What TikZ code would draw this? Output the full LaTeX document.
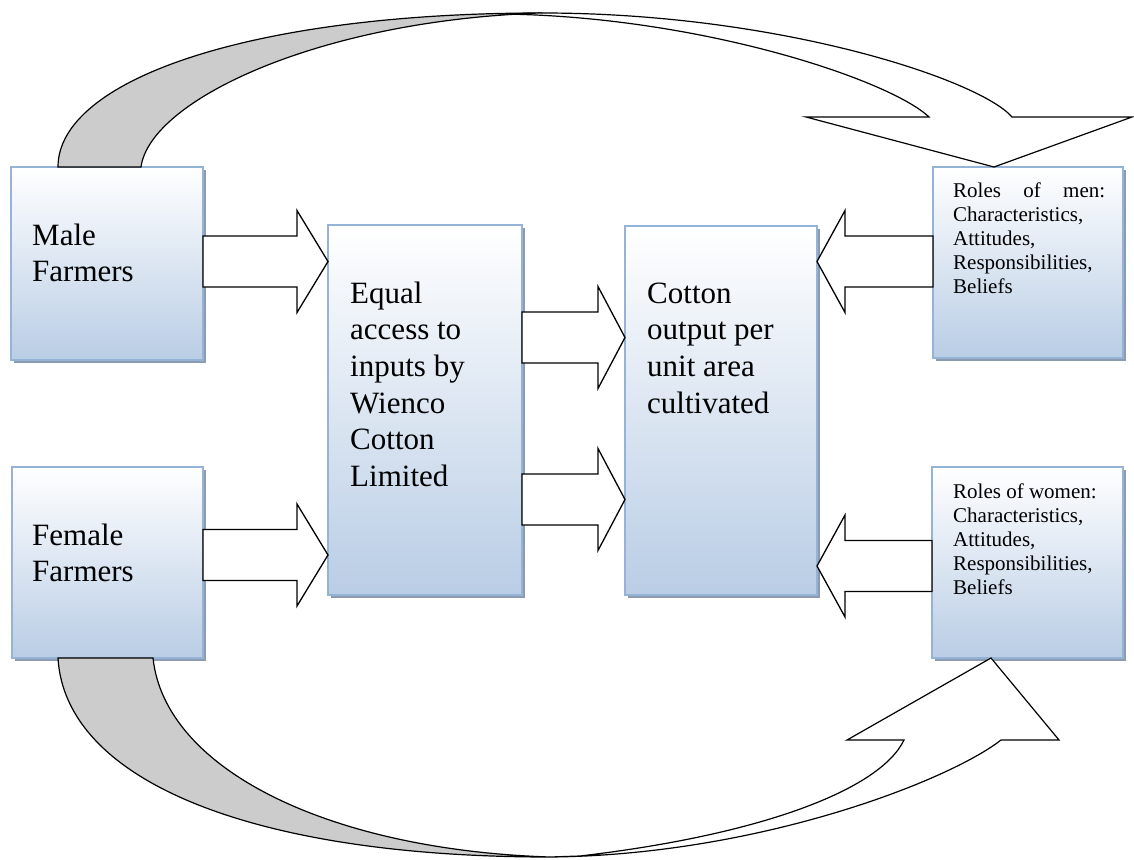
\documentclass[tikz,border=0pt]{standalone}
\usepackage{fontspec}
\setmainfont{Liberation Serif}
\usetikzlibrary{calc,shadows}
\definecolor{boxblue}{RGB}{185,205,229}
\definecolor{boxline}{RGB}{149,179,215}
\definecolor{shadowc}{RGB}{140,155,176}
\definecolor{bandgray}{RGB}{204,204,204}
\newcommand\rblock[4]{%
  \draw[barrow] let \p1=(#1.east), \p2=(#2.west) in
   ({\x1},{\y1+25.5pt-(#3)}) -- ({\x2-#4},{\y1+25.5pt-(#3)}) -- ({\x2-#4},{\y1+51pt-(#3)})
   -- ({\x2},{\y1-(#3)}) -- ({\x2-#4},{\y1-51pt-(#3)}) -- ({\x2-#4},{\y1-25.5pt-(#3)})
   -- ({\x1},{\y1-25.5pt-(#3)}) -- cycle;}
\newcommand\lblock[4]{%
  \draw[barrow] let \p1=(#1.west), \p2=(#2.east) in
   ({\x1},{\y1+25.5pt-(#3)}) -- ({\x2+#4},{\y1+25.5pt-(#3)}) -- ({\x2+#4},{\y1+51pt-(#3)})
   -- ({\x2},{\y1-(#3)}) -- ({\x2+#4},{\y1-51pt-(#3)}) -- ({\x2+#4},{\y1-25.5pt-(#3)})
   -- ({\x1},{\y1-25.5pt-(#3)}) -- cycle;}
\begin{document}
\begin{tikzpicture}[x=1pt,y=-1pt,
  box/.style={draw=boxline, line width=1.6pt, top color=white, bottom color=boxblue,
    anchor=north west, inner sep=0pt, outer sep=0pt,
    drop shadow={shadow xshift=3pt, shadow yshift=-3pt, fill=shadowc, opacity=1}},
  bigtext/.style={anchor=base west, inner sep=0pt, font=\fontsize{31}{36.7}\selectfont},
  smalltext/.style={anchor=base west, inner sep=0pt, font=\fontsize{21}{24}\selectfont},
  barrow/.style={draw=black, line width=1.3pt, fill=white, line join=miter},
  band/.style={draw=black, line width=1.2pt, fill=bandgray},
  ]
\useasboundingbox (0,0) rectangle (1134,859);

% boxes
\node[box, minimum width=192pt, minimum height=193pt] (male) at (11,167) {};
\node[box, minimum width=191pt, minimum height=191pt] (female) at (12,467) {};
\node[box, minimum width=194pt, minimum height=370pt] (equal) at (328,225) {};
\node[box, minimum width=192pt, minimum height=369pt] (cotton) at (625,226) {};
\node[box, minimum width=190pt, minimum height=191pt] (rolesm) at (933,167) {};
\node[box, minimum width=191pt, minimum height=191pt] (rolesw) at (932,467) {};

% texts
\node[bigtext] (maleT) at ($(male.north west)+(21,78)$)
  {\parbox[t]{170pt}{\raggedright Male\\Farmers}};
\node[bigtext] (femaleT) at ($(female.north west)+(20,78)$)
  {\parbox[t]{170pt}{\raggedright Female\\Farmers}};
\node[bigtext] (equalT) at ($(equal.north west)+(22,78)$)
  {\parbox[t]{170pt}{\raggedright Equal\\access to\\inputs by\\Wienco\\Cotton\\Limited}};
\node[bigtext] (cottonT) at ($(cotton.north west)+(22,77)$)
  {\parbox[t]{170pt}{\raggedright Cotton\\output per\\unit area\\cultivated}};
\node[smalltext] (rolesmT) at ($(rolesm.north west)+(20,30)$)
  {\parbox[t]{165pt}{\raggedright \makebox[152pt][s]{Roles of men:}\\Characteristics,\\Attitudes,\\Responsibilities,\\Beliefs}};
\node[smalltext] (roleswT) at ($(rolesw.north west)+(21,31)$)
  {\parbox[t]{165pt}{\raggedright Roles of women:\\Characteristics,\\Attitudes,\\Responsibilities,\\Beliefs}};

% block arrows
\rblock{male}{equal}{-2pt}{31pt}
\rblock{female}{equal}{-7.5pt}{31pt}
\rblock{equal}{cotton}{-72.5pt}{27pt}
\rblock{equal}{cotton}{89.5pt}{27pt}
\lblock{rolesm}{cotton}{-1pt}{28pt}
\lblock{rolesw}{cotton}{3.5pt}{28pt}

% top curved arrow
\draw[band] ($(male.north west)+(47,0)$) .. controls (58,80) and (250,13) .. (542,13)
  .. controls (320,20) and (150,100) .. ($(male.north west)+(130,0)$) -- cycle;
\draw[band, fill=white] (542,13) .. controls (780,13) and (980,80) .. (1012,117)
  -- (1132,117) -- ($(rolesm.north west)+(61,0)$) -- (806,117) -- (929,117)
  .. controls (890,80) and (700,16) .. (500,14) -- cycle;

% bottom curved arrow
\draw[band] ($(female.south west)+(46,0)$) .. controls (65,780) and (250,857) .. (550,857)
  .. controls (330,850) and (165,770) .. ($(female.south west)+(141,0)$) -- cycle;
\draw[band, fill=white] (550,857) .. controls (760,855) and (950,780) .. (1001,740)
  -- (1059,740) -- ($(rolesw.south west)+(59,0)$) -- (847,740) -- (904,740)
  .. controls (880,790) and (760,835) .. (580,856) -- cycle;
\end{tikzpicture}
\end{document}
